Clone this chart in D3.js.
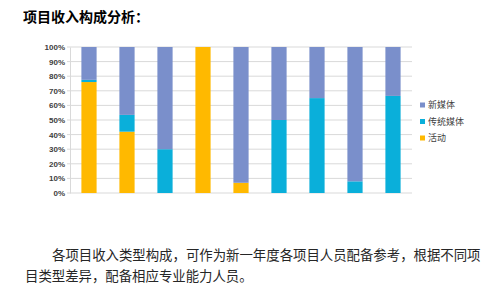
<!DOCTYPE html>
<html>
<head>
<meta charset="utf-8">
<script src="https://cdn.jsdelivr.net/npm/d3@7"></script>
<style>
  body { margin: 0; background: #fff; }
  svg { display: block; }
</style>
</head>
<body>
<div id="chart-container"></div>
<script>
const categories = ["1", "2", "3", "4", "5", "6", "7", "8", "9"];
const seriesNames = ["活动", "传统媒体", "新媒体"];
const activity = [76, 42, 0, 100, 7, 0, 0, 0, 0];
const traditional = [1.5, 11.5, 30, 0, 0, 50, 65, 8, 66.5];
const newMedia = [22.5, 46.5, 70, 0, 93, 50, 35, 92, 33.5];
const tickValues = [0, 10, 20, 30, 40, 50, 60, 70, 80, 90, 100];

const colors = { "活动": "#FFB900", "传统媒体": "#0AAFDA", "新媒体": "#7A8FCB" };

const W = 484, H = 290;
const margin = { top: 47, right: 72, bottom: 97, left: 70 };
const width = W - margin.left - margin.right;
const height = H - margin.top - margin.bottom;

const svgRoot = d3.select("#chart-container")
  .append("svg")
  .attr("width", W)
  .attr("height", H);

svgRoot.append("text")
  .attr("x", 23)
  .attr("y", 22)
  .style("font-family", "'Noto Sans CJK SC', sans-serif")
  .style("font-size", "14px")
  .style("font-weight", "bold")
  .attr("fill", "#000")
  .text("项目收入构成分析：");

const svg = svgRoot.append("g")
  .attr("transform", `translate(${margin.left},${margin.top})`);

const x = d3.scaleBand()
  .domain(categories)
  .range([0, width])
  .paddingInner(0.6)
  .paddingOuter(0.3);

const y = d3.scaleLinear()
  .domain([0, 100])
  .range([height, 0]);

// gridlines
svg.append("g")
  .selectAll("line")
  .data(tickValues)
  .join("line")
  .attr("x1", -3)
  .attr("x2", width)
  .attr("y1", d => y(d))
  .attr("y2", d => y(d))
  .attr("stroke", "#d9d9d9")
  .attr("stroke-width", 1);

const yAxis = svg.append("g")
  .call(d3.axisLeft(y)
    .tickValues(tickValues)
    .tickFormat(d => d + "%")
    .tickSize(0)
    .tickPadding(5));
yAxis.select(".domain").attr("stroke", "#d9d9d9");
yAxis.selectAll("text")
  .style("font-family", "'Liberation Sans', Arial, sans-serif")
  .style("font-size", "8px")
  .style("font-weight", "bold")
  .attr("fill", "#404040");

const table = categories.map((c, i) => ({
  cat: c,
  "活动": activity[i],
  "传统媒体": traditional[i],
  "新媒体": newMedia[i]
}));

const stacked = d3.stack().keys(seriesNames)(table);

svg.append("g")
  .selectAll("g")
  .data(stacked)
  .join("g")
  .attr("fill", d => colors[d.key])
  .selectAll("rect")
  .data(d => d)
  .join("rect")
  .attr("x", d => x(d.data.cat))
  .attr("width", x.bandwidth())
  .attr("y", d => y(d[1]))
  .attr("height", d => y(d[0]) - y(d[1]));

// legend
const legendOrder = ["新媒体", "传统媒体", "活动"];
const legend = svgRoot.append("g")
  .attr("transform", "translate(420,105)");
const item = legend.selectAll("g")
  .data(legendOrder)
  .join("g")
  .attr("transform", (d, i) => `translate(0,${i * 16.5})`);
item.append("rect")
  .attr("x", 0)
  .attr("y", -2.5)
  .attr("width", 5)
  .attr("height", 5)
  .attr("fill", d => colors[d]);
item.append("text")
  .attr("x", 8)
  .attr("y", 0)
  .attr("dy", "0.35em")
  .style("font-family", "'Noto Sans CJK SC', sans-serif")
  .style("font-size", "9px")
  .attr("fill", "#404040")
  .text(d => d);

// paragraph
const para = [
  { x: 52, y: 260, t: "各项目收入类型构成，可作为新一年度各项目人员配备参考，根据不同项" },
  { x: 25, y: 281, t: "目类型差异，配备相应专业能力人员。" }
];
svgRoot.append("g")
  .selectAll("text")
  .data(para)
  .join("text")
  .attr("x", d => d.x)
  .attr("y", d => d.y)
  .style("font-family", "'Noto Sans CJK SC', sans-serif")
  .style("font-size", "13.4px")
  .attr("fill", "#262626")
  .text(d => d.t);
</script>
</body>
</html>
